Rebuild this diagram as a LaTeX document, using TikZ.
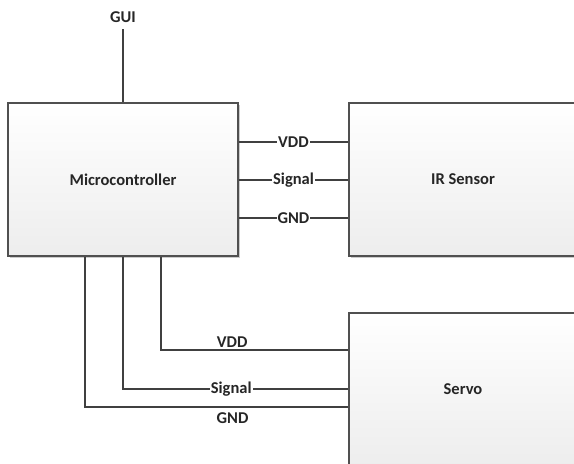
\documentclass[tikz,border=0pt]{standalone}
\usepackage{fontspec}
\setmainfont{Carlito}
\usetikzlibrary{shadows}
\definecolor{edge}{HTML}{505050}
\definecolor{wire}{HTML}{404040}
\tikzset{
  block/.style={draw=edge, line width=1.1pt, top color=white, bottom color=black!7,
    drop shadow={shadow xshift=1.5pt, shadow yshift=-1.5pt, opacity=0.2, fill=black},
    font=\fontsize{16.5}{18}\selectfont\bfseries, text=black!85, inner sep=0pt},
  wireline/.style={draw=wire, line width=1.2pt},
  lbl/.style={font=\fontsize{16.5}{18}\selectfont\bfseries, text=black!85, inner sep=1pt},
  onwire/.style={lbl, fill=white}
}
\begin{document}
\begin{tikzpicture}[x=1pt,y=1pt]
\useasboundingbox (0,0) rectangle (574,-464);
\clip (0,0) rectangle (574,-464);
\node[block, minimum width=230pt, minimum height=153pt] (mc) at (123,-179.5) {Microcontroller};
\node[block, minimum width=228pt, minimum height=153pt] (ir) at (463,-179.5) {IR Sensor};
\node[block, minimum width=228pt, minimum height=152pt] (servo) at (463,-389) {Servo};
\node[lbl] (gui) at (123,-17) {GUI};
\coordinate (guiend) at (123,-29);
\draw[wireline] (guiend) -- (mc.north);
% upper connections
\draw[wireline] ([yshift=37.5pt]mc.east) -- ([yshift=37.5pt]ir.west) node[onwire, midway] (l1) {VDD};
\draw[wireline] ([yshift=-0.5pt]mc.east) -- ([yshift=-0.5pt]ir.west) node[onwire, midway] (l2) {Signal};
\draw[wireline] ([yshift=-38.5pt]mc.east) -- ([yshift=-38.5pt]ir.west) node[onwire, midway] (l3) {GND};
% lower connections
\draw[wireline] ([xshift=38pt]mc.south) |- ([yshift=39pt]servo.west) node[lbl, pos=0.69, above=1pt] (l4) {VDD};
\draw[wireline] (mc.south) |- (servo.west) node[onwire, pos=0.74] (l5) {Signal};
\draw[wireline] ([xshift=-38pt]mc.south) |- ([yshift=-18pt]servo.west) node[lbl, pos=0.78, below=4pt] (l6) {GND};
\end{tikzpicture}
\end{document}
